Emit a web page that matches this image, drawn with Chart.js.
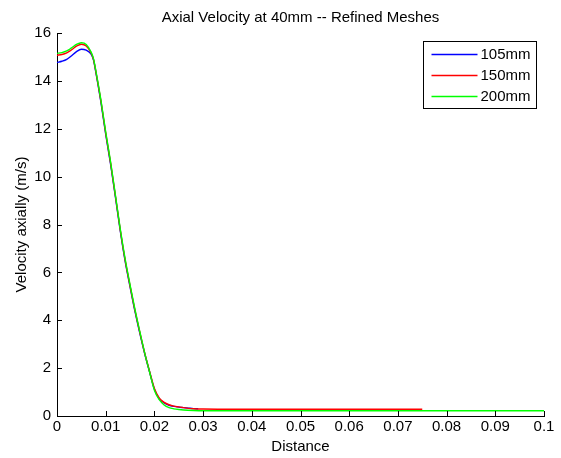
<!DOCTYPE html>
<html>
<head>
<meta charset="utf-8">
<script src="https://cdn.jsdelivr.net/npm/chart.js@4.4.1/dist/chart.umd.min.js"></script>
<style>
  html, body { margin: 0; padding: 0; background: #fff; }
</style>
</head>
<body>
<canvas id="velChart" width="561" height="458"></canvas>
<script>
// distance (m) / axial velocity (m/s) for each mesh
const dist105 = [0, 0.001, 0.002, 0.003, 0.004, 0.005, 0.006, 0.007, 0.0075, 0.008, 0.009, 0.010, 0.011, 0.012, 0.013, 0.014, 0.015, 0.016, 0.017, 0.018, 0.019, 0.020, 0.021, 0.022, 0.023, 0.024, 0.025, 0.026, 0.027, 0.028, 0.029];
const vel105  = [14.77, 14.82, 14.90, 15.05, 15.22, 15.32, 15.28, 15.12, 14.87, 14.33, 13.13, 11.77, 10.52, 9.14, 7.72, 6.46, 5.40, 4.38, 3.46, 2.61, 1.85, 1.12, 0.72, 0.55, 0.45, 0.40, 0.37, 0.35, 0.33, 0.31, 0.30];

const dist150 = [0, 0.001, 0.002, 0.003, 0.004, 0.005, 0.006, 0.007, 0.0075, 0.008, 0.009, 0.010, 0.011, 0.012, 0.013, 0.014, 0.015, 0.016, 0.017, 0.018, 0.019, 0.020, 0.021, 0.022, 0.023, 0.024, 0.025, 0.026, 0.027, 0.028, 0.030, 0.040, 0.075];
const vel150  = [15.07, 15.10, 15.17, 15.30, 15.45, 15.53, 15.46, 15.17, 14.89, 14.36, 13.18, 11.82, 10.57, 9.18, 7.76, 6.50, 5.44, 4.42, 3.50, 2.63, 1.87, 1.15, 0.75, 0.57, 0.47, 0.41, 0.38, 0.35, 0.32, 0.30, 0.29, 0.28, 0.28];

const dist200 = [0, 0.001, 0.002, 0.003, 0.004, 0.005, 0.006, 0.007, 0.0075, 0.008, 0.009, 0.010, 0.011, 0.012, 0.013, 0.014, 0.015, 0.016, 0.017, 0.018, 0.019, 0.020, 0.021, 0.022, 0.023, 0.024, 0.025, 0.026, 0.028, 0.030, 0.100];
const vel200  = [15.15, 15.18, 15.25, 15.38, 15.52, 15.59, 15.52, 15.20, 14.92, 14.40, 13.22, 11.87, 10.62, 9.22, 7.80, 6.55, 5.48, 4.46, 3.53, 2.64, 1.85, 1.08, 0.68, 0.46, 0.35, 0.30, 0.27, 0.25, 0.23, 0.22, 0.22];

const seriesNames = ['105mm', '150mm', '200mm'];
const seriesColors = ['#0000ff', '#ff0000', '#00ff00'];

const xTickMax = 0.1, xTickStep = 0.01;
const yTickMax = 16, yTickStep = 2;

const chartTitle = 'Axial Velocity at 40mm -- Refined Meshes';
const FONT = 'Liberation Sans, Arial, sans-serif';

function toPoints(xs, ys) {
    return xs.map((x, i) => ({ x: x, y: ys[i] }));
}

// title centred over the axes rather than the whole canvas
const axesTitle = {
    id: 'axesTitle',
    afterDraw(chart) {
        const ctx = chart.ctx;
        const area = chart.chartArea;
        ctx.save();
        ctx.font = '15px ' + FONT;
        ctx.fillStyle = '#000';
        ctx.textAlign = 'center';
        ctx.textBaseline = 'alphabetic';
        ctx.fillText(chartTitle, (area.left + area.right) / 2, 22);
        ctx.restore();
    }
};

// short tick marks pointing into the plot, matlab style
const inwardTicks = {
    id: 'inwardTicks',
    afterDatasetsDraw(chart) {
        const ctx = chart.ctx;
        const area = chart.chartArea;
        const xs = chart.scales.x, ys = chart.scales.y;
        ctx.save();
        ctx.strokeStyle = '#000';
        ctx.lineWidth = 1;
        ctx.beginPath();
        xs.ticks.forEach(t => {
            const px = Math.round(xs.getPixelForValue(t.value)) + 0.5;
            ctx.moveTo(px, Math.round(area.bottom));
            ctx.lineTo(px, Math.round(area.bottom) - 5);
        });
        ys.ticks.forEach(t => {
            const py = Math.round(ys.getPixelForValue(t.value)) + 0.5;
            ctx.moveTo(Math.round(area.left), py);
            ctx.lineTo(Math.round(area.left) + 5, py);
        });
        ctx.stroke();
        ctx.restore();
    }
};

// boxed legend in the top right corner of the axes
const boxLegend = {
    id: 'boxLegend',
    afterDraw(chart) {
        const ctx = chart.ctx;
        const area = chart.chartArea;
        const sets = chart.data.datasets;
        const boxW = 113, rowH = 21;
        const boxH = rowH * sets.length + 4;
        const left = Math.round(area.right) - 8 - boxW + 0.5;
        const top = Math.round(area.top) + 8 + 0.5;
        ctx.save();
        ctx.fillStyle = '#fff';
        ctx.fillRect(left, top, boxW, boxH);
        ctx.lineWidth = 1;
        ctx.strokeStyle = '#000';
        ctx.strokeRect(left, top, boxW, boxH);
        ctx.font = '15px ' + FONT;
        ctx.textBaseline = 'middle';
        ctx.textAlign = 'left';
        sets.forEach((ds, i) => {
            const cy = Math.round(top + 12 + i * rowH) + 0.5;
            ctx.beginPath();
            ctx.strokeStyle = seriesColors[i];
            ctx.lineWidth = 1.5;
            ctx.moveTo(left + 8, cy);
            ctx.lineTo(left + 54, cy);
            ctx.stroke();
            ctx.fillStyle = '#000';
            ctx.fillText(ds.label, left + 57, cy);
        });
        ctx.restore();
    }
};

const ctx = document.getElementById('velChart').getContext('2d');
new Chart(ctx, {
    type: 'line',
    data: {
        datasets: [
            { label: seriesNames[0], data: toPoints(dist105, vel105), borderColor: seriesColors[0], order: 2 },
            { label: seriesNames[1], data: toPoints(dist150, vel150), borderColor: seriesColors[1], order: 1 },
            { label: seriesNames[2], data: toPoints(dist200, vel200), borderColor: seriesColors[2], order: 0 }
        ]
    },
    options: {
        responsive: false,
        animation: false,
        layout: { padding: { top: 33, right: 17, bottom: 0, left: 0 } },
        elements: {
            line: { borderWidth: 1.4, cubicInterpolationMode: 'monotone', fill: false },
            point: { radius: 0, hoverRadius: 0 }
        },
        plugins: {
            legend: { display: false },
            tooltip: { enabled: false },
            title: { display: false }
        },
        scales: {
            x: {
                type: 'linear',
                min: 0,
                max: xTickMax,
                afterFit: s => { s.height = 42; },
                grid: { display: false, drawTicks: false },
                border: { display: true, color: '#000', width: 1 },
                ticks: {
                    stepSize: xTickStep,
                    padding: 2,
                    color: '#000',
                    font: { family: FONT, size: 15 },
                    callback: v => String(+v.toFixed(2))
                },
                title: {
                    display: true,
                    text: 'Distance',
                    color: '#000',
                    font: { family: FONT, size: 15 },
                    padding: { top: 0, bottom: 2 }
                }
            },
            y: {
                min: 0,
                max: yTickMax,
                afterFit: s => { s.width = 57; },
                grid: { display: false, drawTicks: false },
                border: { display: true, color: '#000', width: 1 },
                ticks: {
                    stepSize: yTickStep,
                    padding: 6,
                    color: '#000',
                    font: { family: FONT, size: 15 }
                },
                title: {
                    display: true,
                    text: 'Velocity axially (m/s)',
                    color: '#000',
                    font: { family: FONT, size: 15 },
                    padding: { top: 13, bottom: 0 }
                }
            }
        }
    },
    plugins: [axesTitle, inwardTicks, boxLegend]
});
</script>
</body>
</html>
